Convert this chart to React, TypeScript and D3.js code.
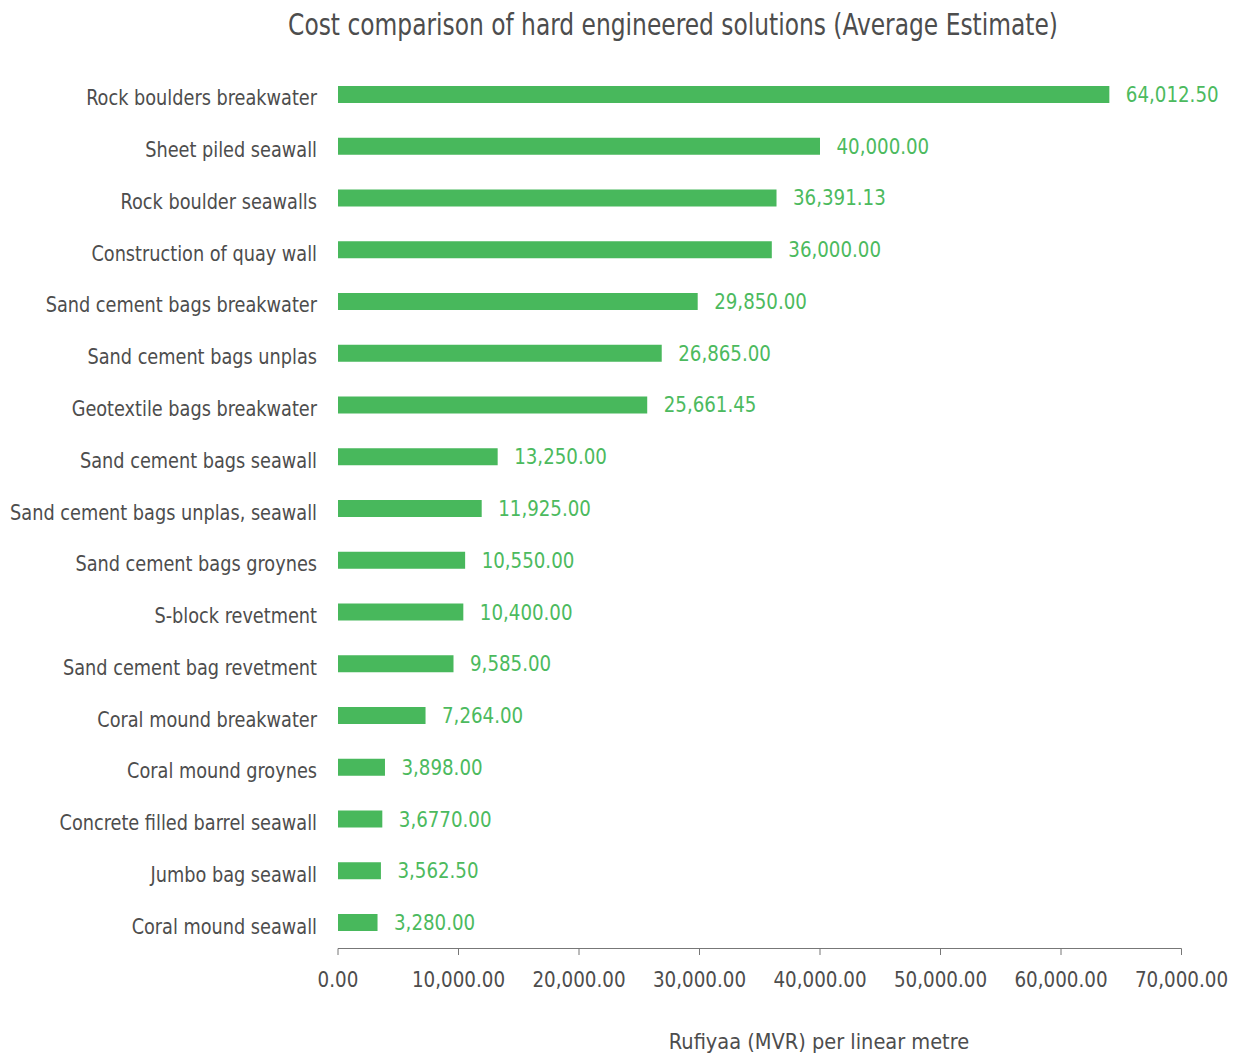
import React from "react";
import * as d3 from "d3";

const categories = [
  "Rock boulders breakwater",
  "Sheet piled seawall",
  "Rock boulder seawalls",
  "Construction of quay wall",
  "Sand cement bags breakwater",
  "Sand cement bags unplas",
  "Geotextile bags breakwater",
  "Sand cement bags seawall",
  "Sand cement bags unplas, seawall",
  "Sand cement bags groynes",
  "S-block revetment",
  "Sand cement bag revetment",
  "Coral mound breakwater",
  "Coral mound groynes",
  "Concrete filled barrel seawall",
  "Jumbo bag seawall",
  "Coral mound seawall",
];
const values = [
  64012.5, 40000, 36391.13, 36000, 29850, 26865, 25661.45, 13250, 11925, 10550,
  10400, 9585, 7264, 3898, 3677, 3562.5, 3280,
];
const valueLabels = [
  "64,012.50", "40,000.00", "36,391.13", "36,000.00", "29,850.00", "26,865.00",
  "25,661.45", "13,250.00", "11,925.00", "10,550.00", "10,400.00", "9,585.00",
  "7,264.00", "3,898.00", "3,6770.00", "3,562.50", "3,280.00",
];
const xTicks = [0, 10000, 20000, 30000, 40000, 50000, 60000, 70000];
const title = "Cost comparison of hard engineered solutions (Average Estimate)";
const xTitle = "Rufiyaa (MVR) per linear metre";

const W = 1239;
const H = 1054;
const FONT = "'DejaVu Sans Condensed', 'DejaVu Sans', sans-serif";
const GREEN = "#48b85c";
const LABEL_GREEN = "#4cba5e";
const TEXT = "#4d4d4d";

type TProps = {
  x: number;
  y: number;
  sx: number;
  size: number;
  anchor?: "start" | "middle" | "end";
  fill: string;
  children: React.ReactNode;
};
function T({ x, y, sx, size, anchor = "start", fill, children }: TProps) {
  return (
    <text
      transform={`translate(${x},${y}) scale(${sx},1)`}
      textAnchor={anchor}
      fontSize={size}
      fill={fill}
    >
      {children}
    </text>
  );
}

export default function App() {
  const x = d3.scaleLinear().domain([0, 70000]).range([338, 1181.5]);
  const y = d3
    .scaleBand<string>()
    .domain(categories)
    .range([86, 931])
    .paddingInner(0.6715)
    .paddingOuter(0);
  const fmt = d3.format(",.2f");
  const axisY = 948.5;
  return (
    <div style={{ position: "absolute", left: 0, top: 0 }}>
      <svg width={W} height={H} style={{ display: "block", background: "#fff" }} fontFamily={FONT}>
        <T x={673} y={35} sx={0.838} size={31} anchor="middle" fill={TEXT}>
          {title}
        </T>
        {categories.map((c, i) => {
          const yy = y(c)!;
          const bh = y.bandwidth();
          const cy = yy + bh / 2;
          return (
            <g key={c}>
              <T x={317} y={cy + 11} sx={0.895} size={22} anchor="end" fill={TEXT}>
                {c}
              </T>
              <rect x={x(0)} y={yy} width={x(values[i]) - x(0)} height={bh} fill={GREEN} />
              <T x={x(values[i]) + 16.5} y={cy + 7.5} sx={0.965} size={21} fill={LABEL_GREEN}>
                {valueLabels[i]}
              </T>
            </g>
          );
        })}
        <line x1={x(0)} x2={x(70000)} y1={axisY} y2={axisY} stroke="#777" strokeWidth={1} />
        {xTicks.map((t) => (
          <g key={t}>
            <line x1={x(t)} x2={x(t)} y1={axisY} y2={955} stroke="#777" strokeWidth={1} />
            <T x={x(t)} y={986.7} sx={0.97} size={21} anchor="middle" fill={TEXT}>
              {fmt(t)}
            </T>
          </g>
        ))}
        <T x={819} y={1049} sx={0.98} size={22} anchor="middle" fill={TEXT}>
          {xTitle}
        </T>
      </svg>
    </div>
  );
}
